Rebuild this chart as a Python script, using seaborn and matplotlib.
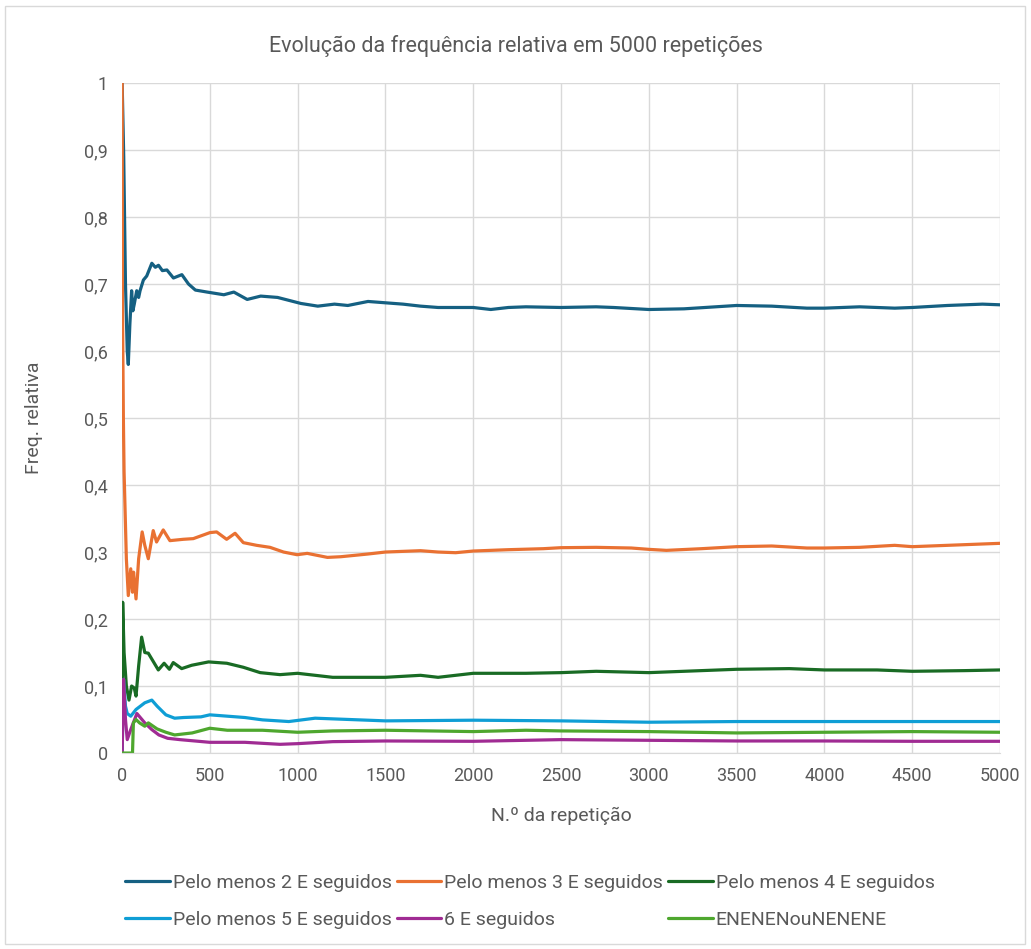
import matplotlib
matplotlib.use('Agg')
import matplotlib.pyplot as plt
from matplotlib.patches import Rectangle
from matplotlib.ticker import FuncFormatter
import seaborn as sns
import pandas as pd

# Series names (legend order)
series_names = ['Pelo menos 2 E seguidos', 'Pelo menos 3 E seguidos', 'Pelo menos 4 E seguidos',
                'Pelo menos 5 E seguidos', '6 E seguidos', 'ENENENouNENENE']
series_colors = ['#156082', '#E97132', '#196B24', '#0F9ED5', '#A02B93', '#4EA72E']

# Values (repetition, relative frequency)
rep_2e = [1, 10, 20, 30, 36, 45, 55, 62, 70, 84, 95, 103, 122, 141, 170, 190, 208, 230, 256, 293,
          341, 379, 418, 485, 580, 637, 713, 790, 886, 1019, 1115, 1210, 1286, 1401, 1500, 1600,
          1700, 1800, 2000, 2100, 2200, 2300, 2500, 2700, 2800, 3000, 3200, 3500, 3700, 3900,
          4000, 4200, 4400, 4500, 4700, 4900, 5000]
freq_2e = [1.0, 0.89, 0.70, 0.60, 0.58, 0.64, 0.69, 0.66, 0.67, 0.69, 0.68, 0.69, 0.706, 0.712,
           0.731, 0.725, 0.728, 0.72, 0.721, 0.709, 0.714, 0.70, 0.691, 0.688, 0.684, 0.688,
           0.677, 0.682, 0.68, 0.671, 0.667, 0.670, 0.668, 0.674, 0.672, 0.670, 0.667, 0.665,
           0.665, 0.662, 0.665, 0.666, 0.665, 0.666, 0.665, 0.662, 0.663, 0.668, 0.667, 0.664,
           0.664, 0.666, 0.664, 0.665, 0.668, 0.670, 0.669]

rep_3e = [1, 3, 5, 8, 12, 18, 25, 36, 50, 60, 66, 80, 95, 115, 130, 150, 178, 197, 235, 273, 349,
          406, 501, 539, 596, 644, 691, 767, 843, 920, 997, 1055, 1170, 1246, 1399, 1500, 1600,
          1700, 1800, 1900, 2000, 2200, 2400, 2500, 2700, 2900, 3000, 3100, 3300, 3500, 3700,
          3900, 4000, 4200, 4400, 4500, 4700, 5000]
freq_3e = [1.0, 0.67, 0.6, 0.5, 0.42, 0.36, 0.29, 0.235, 0.275, 0.24, 0.27, 0.23, 0.29, 0.33,
           0.31, 0.29, 0.332, 0.315, 0.333, 0.317, 0.319, 0.32, 0.329, 0.33, 0.319, 0.328, 0.314,
           0.31, 0.307, 0.30, 0.296, 0.298, 0.292, 0.293, 0.297, 0.300, 0.301, 0.302, 0.300,
           0.299, 0.3015, 0.3035, 0.305, 0.3065, 0.307, 0.306, 0.304, 0.3025, 0.305, 0.308,
           0.309, 0.306, 0.306, 0.307, 0.31, 0.308, 0.31, 0.313]

rep_4e = [1, 4, 12, 25, 40, 55, 70, 80, 95, 112, 130, 150, 207, 240, 270, 292, 340, 397, 493, 597,
          691, 787, 900, 1000, 1200, 1400, 1500, 1700, 1800, 2000, 2300, 2500, 2700, 3000, 3200,
          3500, 3800, 4000, 4300, 4500, 4800, 5000]
freq_4e = [0.0, 0.225, 0.15, 0.10, 0.079, 0.10, 0.097, 0.085, 0.13, 0.173, 0.15, 0.149, 0.124,
           0.134, 0.125, 0.135, 0.126, 0.131, 0.136, 0.134, 0.128, 0.12, 0.117, 0.119, 0.113,
           0.113, 0.113, 0.116, 0.113, 0.119, 0.119, 0.12, 0.122, 0.12, 0.122, 0.125, 0.126,
           0.124, 0.124, 0.122, 0.123, 0.124]

rep_5e = [1, 9, 20, 30, 50, 80, 100, 130, 170, 200, 250, 300, 350, 450, 500, 600, 700, 800, 950,
          1100, 1300, 1500, 2000, 2500, 3000, 3500, 4000, 4500, 5000]
freq_5e = [0.0, 0.11, 0.07, 0.059, 0.055, 0.065, 0.069, 0.075, 0.079, 0.07, 0.057, 0.052, 0.053,
           0.054, 0.057, 0.055, 0.053, 0.0495, 0.047, 0.052, 0.050, 0.048, 0.049, 0.048, 0.046,
           0.047, 0.047, 0.047, 0.047]

rep_6e = [1, 9, 20, 30, 50, 85, 130, 170, 210, 260, 330, 500, 700, 900, 1000, 1200, 1500, 2000,
          2500, 3000, 3500, 4000, 4500, 5000]
freq_6e = [0.0, 0.11, 0.05, 0.02, 0.035, 0.059, 0.045, 0.035, 0.027, 0.022, 0.020, 0.016, 0.016,
           0.013, 0.014, 0.017, 0.018, 0.0175, 0.02, 0.019, 0.018, 0.018, 0.0175, 0.0175]

rep_alt = [1, 40, 60, 65, 80, 100, 130, 150, 200, 250, 300, 400, 500, 600, 800, 1000, 1200, 1500,
           2000, 2300, 2500, 3000, 3500, 4000, 4500, 5000]
freq_alt = [0.0, 0.0, 0.0, 0.045, 0.05, 0.045, 0.040, 0.045, 0.036, 0.031, 0.027, 0.030, 0.037,
            0.034, 0.034, 0.031, 0.033, 0.034, 0.032, 0.034, 0.033, 0.032, 0.030, 0.031, 0.032,
            0.031]

x_ticks = list(range(0, 5001, 500))
y_ticks = [i / 10 for i in range(11)]

all_reps = [rep_2e, rep_3e, rep_4e, rep_5e, rep_6e, rep_alt]
all_freqs = [freq_2e, freq_3e, freq_4e, freq_5e, freq_6e, freq_alt]
df = pd.concat([pd.DataFrame({'rep': r, 'freq': f, 'serie': n})
                for r, f, n in zip(all_reps, all_freqs, series_names)], ignore_index=True)

sns.set_style('white')
plt.rcParams['font.family'] = ['Roboto', 'DejaVu Sans']

fig = plt.figure(figsize=(10.31, 9.49), dpi=100)
ax = fig.add_axes([0.1183, 0.2065, 0.8517, 0.706])

sns.lineplot(data=df, x='rep', y='freq', hue='serie', hue_order=series_names,
             palette=series_colors, estimator=None, linewidth=2.3, ax=ax)

ax.set_xlim(0, 5000)
ax.set_ylim(0, 1)
ax.set_xticks(x_ticks)
ax.set_yticks(y_ticks)
ax.yaxis.set_major_formatter(FuncFormatter(lambda v, p: ('%g' % round(v, 1)).replace('.', ',')))
ax.grid(True, color='#D9D9D9', linewidth=1)
ax.set_axisbelow(True)
for s in ['top', 'right', 'left']:
    ax.spines[s].set_visible(False)
ax.spines['bottom'].set_color('#D9D9D9')
ax.tick_params(axis='both', labelsize=13, colors='#595959', length=0, pad=10)

ax.set_xlabel('N.º da repetição', fontsize=14, color='#595959', labelpad=16)
ax.set_ylabel('Freq. relativa', fontsize=14, color='#595959', labelpad=30)
fig.text(0.5, 0.952, 'Evolução da frequência relativa em 5000 repetições',
         ha='center', va='center', fontsize=15.5, color='#595959')

# legend in row order (matplotlib fills columns first)
handles, labels = ax.get_legend_handles_labels()
order = [0, 3, 1, 4, 2, 5]
ax.legend([handles[i] for i in order], [labels[i] for i in order], ncol=3,
          loc='center', bbox_to_anchor=(0.514, 0.05), bbox_transform=fig.transFigure,
          frameon=False, fontsize=14, labelcolor='#595959', handlelength=2.3,
          handletextpad=0.15, columnspacing=0.25, labelspacing=1.0)

fig.patches.append(Rectangle((5 / 1031, 5 / 949), 1020 / 1031, 938 / 949,
                             transform=fig.transFigure, fill=False,
                             edgecolor='#D9D9D9', linewidth=1))

fig.savefig('out.png', dpi=100)
